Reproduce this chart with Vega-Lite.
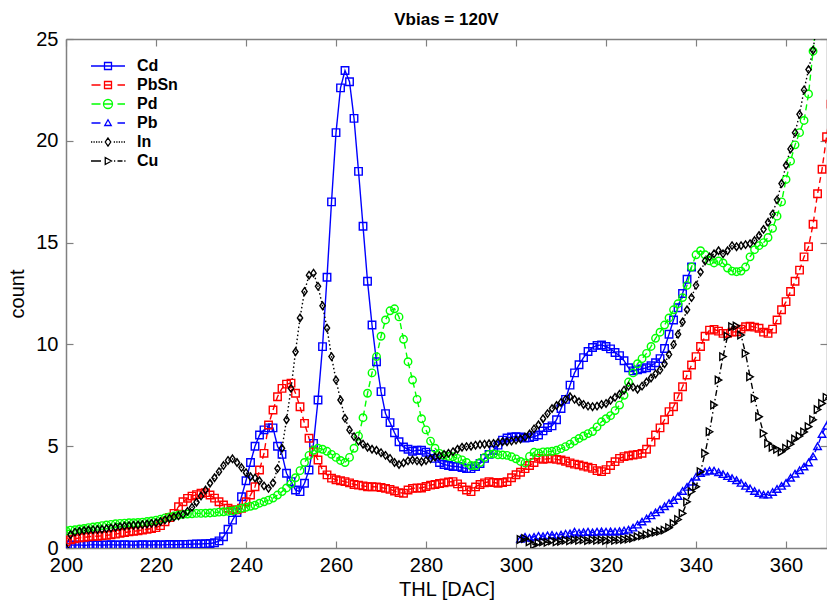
{
"$schema": "https://vega.github.io/schema/vega-lite/v6.json",
"width": 761,
"height": 509,
"autosize": "none",
"padding": {"left": 66, "top": 39, "right": 0, "bottom": 53},
"background": "white",
"title": {"text": "Vbias = 120V", "fontSize": 17, "fontWeight": "bold", "offset": 0, "dy": 17, "frame": "group", "baseline": "bottom", "anchor": "middle", "color": "black", "font": "Liberation Sans"},
"config": {
 "font": "Liberation Sans",
 "view": {"stroke": null},
 "axis": {"grid": false, "domainColor": "#808080", "domainWidth": 1.5, "tickColor": "#808080", "tickSize": -7, "tickWidth": 1.2, "labelFontSize": 20, "labelColor": "#000000", "titleFontSize": 20, "titleFontWeight": "normal", "titleColor": "#000000", "labelFont": "Liberation Sans", "titleFont": "Liberation Sans", "labelFlush": false, "labelOverlap": false}
},
"data": {"values": [
{"s":"Cd","x":200,"y":0.12},{"s":"Cd","x":201,"y":0.15},{"s":"Cd","x":202,"y":0.14},{"s":"Cd","x":203,"y":0.15},{"s":"Cd","x":204,"y":0.13},{"s":"Cd","x":205,"y":0.15},{"s":"Cd","x":206,"y":0.16},{"s":"Cd","x":207,"y":0.15},{"s":"Cd","x":208,"y":0.14},{"s":"Cd","x":209,"y":0.15},{"s":"Cd","x":210,"y":0.16},{"s":"Cd","x":211,"y":0.15},{"s":"Cd","x":212,"y":0.15},{"s":"Cd","x":213,"y":0.16},{"s":"Cd","x":214,"y":0.15},{"s":"Cd","x":215,"y":0.14},{"s":"Cd","x":216,"y":0.15},{"s":"Cd","x":217,"y":0.16},{"s":"Cd","x":218,"y":0.15},{"s":"Cd","x":219,"y":0.15},{"s":"Cd","x":220,"y":0.16},{"s":"Cd","x":221,"y":0.15},{"s":"Cd","x":222,"y":0.16},{"s":"Cd","x":223,"y":0.17},{"s":"Cd","x":224,"y":0.16},{"s":"Cd","x":225,"y":0.17},{"s":"Cd","x":226,"y":0.18},{"s":"Cd","x":227,"y":0.18},{"s":"Cd","x":228,"y":0.19},{"s":"Cd","x":229,"y":0.2},{"s":"Cd","x":230,"y":0.2},{"s":"Cd","x":231,"y":0.21},{"s":"Cd","x":232,"y":0.22},{"s":"Cd","x":233,"y":0.26},{"s":"Cd","x":234,"y":0.35},{"s":"Cd","x":235,"y":0.55},{"s":"Cd","x":236,"y":0.92},{"s":"Cd","x":237,"y":1.37},{"s":"Cd","x":238,"y":1.74},{"s":"Cd","x":239,"y":2.52},{"s":"Cd","x":240,"y":3.3},{"s":"Cd","x":241,"y":4.2},{"s":"Cd","x":242,"y":5.0},{"s":"Cd","x":243,"y":5.55},{"s":"Cd","x":244,"y":5.8},{"s":"Cd","x":245,"y":5.9},{"s":"Cd","x":246,"y":5.9},{"s":"Cd","x":247,"y":5.0},{"s":"Cd","x":248,"y":4.6},{"s":"Cd","x":249,"y":3.67},{"s":"Cd","x":250,"y":3.26},{"s":"Cd","x":251,"y":2.85},{"s":"Cd","x":252,"y":2.77},{"s":"Cd","x":253,"y":3.18},{"s":"Cd","x":254,"y":3.83},{"s":"Cd","x":255,"y":5.14},{"s":"Cd","x":256,"y":7.27},{"s":"Cd","x":257,"y":9.89},{"s":"Cd","x":258,"y":13.3},{"s":"Cd","x":259,"y":17.0},{"s":"Cd","x":260,"y":20.4},{"s":"Cd","x":261,"y":22.6},{"s":"Cd","x":262,"y":23.45},{"s":"Cd","x":263,"y":22.9},{"s":"Cd","x":264,"y":21.1},{"s":"Cd","x":265,"y":18.5},{"s":"Cd","x":266,"y":15.8},{"s":"Cd","x":267,"y":13.1},{"s":"Cd","x":268,"y":10.95},{"s":"Cd","x":269,"y":9.15},{"s":"Cd","x":270,"y":7.68},{"s":"Cd","x":271,"y":6.6},{"s":"Cd","x":272,"y":6.16},{"s":"Cd","x":273,"y":5.66},{"s":"Cd","x":274,"y":5.22},{"s":"Cd","x":275,"y":4.96},{"s":"Cd","x":276,"y":4.85},{"s":"Cd","x":277,"y":4.75},{"s":"Cd","x":278,"y":4.8},{"s":"Cd","x":279,"y":4.8},{"s":"Cd","x":280,"y":4.7},{"s":"Cd","x":281,"y":4.6},{"s":"Cd","x":282,"y":4.4},{"s":"Cd","x":283,"y":4.2},{"s":"Cd","x":284,"y":4.1},{"s":"Cd","x":285,"y":4.05},{"s":"Cd","x":286,"y":4.0},{"s":"Cd","x":287,"y":4.0},{"s":"Cd","x":288,"y":3.95},{"s":"Cd","x":289,"y":3.9},{"s":"Cd","x":290,"y":3.9},{"s":"Cd","x":291,"y":4.0},{"s":"Cd","x":292,"y":4.15},{"s":"Cd","x":293,"y":4.4},{"s":"Cd","x":294,"y":4.6},{"s":"Cd","x":295,"y":4.8},{"s":"Cd","x":296,"y":5.05},{"s":"Cd","x":297,"y":5.3},{"s":"Cd","x":298,"y":5.4},{"s":"Cd","x":299,"y":5.45},{"s":"Cd","x":300,"y":5.47},{"s":"Cd","x":301,"y":5.45},{"s":"Cd","x":302,"y":5.4},{"s":"Cd","x":303,"y":5.42},{"s":"Cd","x":304,"y":5.47},{"s":"Cd","x":305,"y":5.55},{"s":"Cd","x":306,"y":5.75},{"s":"Cd","x":307,"y":5.92},{"s":"Cd","x":308,"y":6.0},{"s":"Cd","x":309,"y":6.3},{"s":"Cd","x":310,"y":6.85},{"s":"Cd","x":311,"y":7.3},{"s":"Cd","x":312,"y":8.0},{"s":"Cd","x":313,"y":8.6},{"s":"Cd","x":314,"y":9.0},{"s":"Cd","x":315,"y":9.35},{"s":"Cd","x":316,"y":9.65},{"s":"Cd","x":317,"y":9.85},{"s":"Cd","x":318,"y":9.95},{"s":"Cd","x":319,"y":9.97},{"s":"Cd","x":320,"y":9.9},{"s":"Cd","x":321,"y":9.78},{"s":"Cd","x":322,"y":9.6},{"s":"Cd","x":323,"y":9.45},{"s":"Cd","x":324,"y":9.2},{"s":"Cd","x":325,"y":8.85},{"s":"Cd","x":326,"y":8.7},{"s":"Cd","x":327,"y":8.75},{"s":"Cd","x":328,"y":8.8},{"s":"Cd","x":329,"y":8.85},{"s":"Cd","x":330,"y":8.95},{"s":"Cd","x":331,"y":9.1},{"s":"Cd","x":332,"y":9.3},{"s":"Cd","x":333,"y":9.8},{"s":"Cd","x":334,"y":10.5},{"s":"Cd","x":335,"y":11.2},{"s":"Cd","x":336,"y":11.8},{"s":"Cd","x":337,"y":12.5},{"s":"Cd","x":338,"y":13.2},{"s":"Cd","x":339,"y":13.8},
{"s":"PbSn","x":200,"y":0.3},{"s":"PbSn","x":201,"y":0.4},{"s":"PbSn","x":202,"y":0.45},{"s":"PbSn","x":203,"y":0.5},{"s":"PbSn","x":204,"y":0.52},{"s":"PbSn","x":205,"y":0.55},{"s":"PbSn","x":206,"y":0.57},{"s":"PbSn","x":207,"y":0.58},{"s":"PbSn","x":208,"y":0.6},{"s":"PbSn","x":209,"y":0.62},{"s":"PbSn","x":210,"y":0.65},{"s":"PbSn","x":211,"y":0.68},{"s":"PbSn","x":212,"y":0.72},{"s":"PbSn","x":213,"y":0.76},{"s":"PbSn","x":214,"y":0.8},{"s":"PbSn","x":215,"y":0.82},{"s":"PbSn","x":216,"y":0.85},{"s":"PbSn","x":217,"y":0.88},{"s":"PbSn","x":218,"y":0.92},{"s":"PbSn","x":219,"y":0.95},{"s":"PbSn","x":220,"y":1.0},{"s":"PbSn","x":221,"y":1.1},{"s":"PbSn","x":222,"y":1.29},{"s":"PbSn","x":223,"y":1.5},{"s":"PbSn","x":224,"y":1.7},{"s":"PbSn","x":225,"y":2.03},{"s":"PbSn","x":226,"y":2.27},{"s":"PbSn","x":227,"y":2.44},{"s":"PbSn","x":228,"y":2.55},{"s":"PbSn","x":229,"y":2.62},{"s":"PbSn","x":230,"y":2.69},{"s":"PbSn","x":231,"y":2.72},{"s":"PbSn","x":232,"y":2.6},{"s":"PbSn","x":233,"y":2.45},{"s":"PbSn","x":234,"y":2.27},{"s":"PbSn","x":235,"y":2.11},{"s":"PbSn","x":236,"y":1.95},{"s":"PbSn","x":237,"y":1.87},{"s":"PbSn","x":238,"y":1.87},{"s":"PbSn","x":239,"y":1.95},{"s":"PbSn","x":240,"y":2.27},{"s":"PbSn","x":241,"y":2.6},{"s":"PbSn","x":242,"y":3.01},{"s":"PbSn","x":243,"y":3.83},{"s":"PbSn","x":244,"y":4.65},{"s":"PbSn","x":245,"y":6.04},{"s":"PbSn","x":246,"y":6.78},{"s":"PbSn","x":247,"y":7.43},{"s":"PbSn","x":248,"y":7.84},{"s":"PbSn","x":249,"y":8.05},{"s":"PbSn","x":250,"y":8.1},{"s":"PbSn","x":251,"y":7.6},{"s":"PbSn","x":252,"y":6.94},{"s":"PbSn","x":253,"y":6.12},{"s":"PbSn","x":254,"y":5.39},{"s":"PbSn","x":255,"y":4.73},{"s":"PbSn","x":256,"y":4.32},{"s":"PbSn","x":257,"y":3.83},{"s":"PbSn","x":258,"y":3.59},{"s":"PbSn","x":259,"y":3.43},{"s":"PbSn","x":260,"y":3.35},{"s":"PbSn","x":261,"y":3.3},{"s":"PbSn","x":262,"y":3.26},{"s":"PbSn","x":263,"y":3.2},{"s":"PbSn","x":264,"y":3.12},{"s":"PbSn","x":265,"y":3.09},{"s":"PbSn","x":266,"y":3.05},{"s":"PbSn","x":267,"y":3.01},{"s":"PbSn","x":268,"y":3.01},{"s":"PbSn","x":269,"y":3.0},{"s":"PbSn","x":270,"y":2.97},{"s":"PbSn","x":271,"y":2.93},{"s":"PbSn","x":272,"y":2.88},{"s":"PbSn","x":273,"y":2.8},{"s":"PbSn","x":274,"y":2.72},{"s":"PbSn","x":275,"y":2.69},{"s":"PbSn","x":276,"y":2.85},{"s":"PbSn","x":277,"y":2.93},{"s":"PbSn","x":278,"y":2.95},{"s":"PbSn","x":279,"y":2.95},{"s":"PbSn","x":280,"y":3.02},{"s":"PbSn","x":281,"y":3.09},{"s":"PbSn","x":282,"y":3.12},{"s":"PbSn","x":283,"y":3.17},{"s":"PbSn","x":284,"y":3.2},{"s":"PbSn","x":285,"y":3.24},{"s":"PbSn","x":286,"y":3.26},{"s":"PbSn","x":287,"y":3.15},{"s":"PbSn","x":288,"y":3.0},{"s":"PbSn","x":289,"y":2.85},{"s":"PbSn","x":290,"y":2.77},{"s":"PbSn","x":291,"y":3.0},{"s":"PbSn","x":292,"y":3.12},{"s":"PbSn","x":293,"y":3.2},{"s":"PbSn","x":294,"y":3.26},{"s":"PbSn","x":295,"y":3.22},{"s":"PbSn","x":296,"y":3.18},{"s":"PbSn","x":297,"y":3.22},{"s":"PbSn","x":298,"y":3.26},{"s":"PbSn","x":299,"y":3.45},{"s":"PbSn","x":300,"y":3.6},{"s":"PbSn","x":301,"y":3.72},{"s":"PbSn","x":302,"y":3.9},{"s":"PbSn","x":303,"y":4.05},{"s":"PbSn","x":304,"y":4.2},{"s":"PbSn","x":305,"y":4.4},{"s":"PbSn","x":306,"y":4.36},{"s":"PbSn","x":307,"y":4.38},{"s":"PbSn","x":308,"y":4.4},{"s":"PbSn","x":309,"y":4.35},{"s":"PbSn","x":310,"y":4.32},{"s":"PbSn","x":311,"y":4.26},{"s":"PbSn","x":312,"y":4.18},{"s":"PbSn","x":313,"y":4.12},{"s":"PbSn","x":314,"y":4.08},{"s":"PbSn","x":315,"y":4.02},{"s":"PbSn","x":316,"y":3.97},{"s":"PbSn","x":317,"y":3.91},{"s":"PbSn","x":318,"y":3.8},{"s":"PbSn","x":319,"y":3.75},{"s":"PbSn","x":320,"y":3.85},{"s":"PbSn","x":321,"y":4.05},{"s":"PbSn","x":322,"y":4.24},{"s":"PbSn","x":323,"y":4.4},{"s":"PbSn","x":324,"y":4.49},{"s":"PbSn","x":325,"y":4.53},{"s":"PbSn","x":326,"y":4.57},{"s":"PbSn","x":327,"y":4.6},{"s":"PbSn","x":328,"y":4.65},{"s":"PbSn","x":329,"y":4.85},{"s":"PbSn","x":330,"y":5.2},{"s":"PbSn","x":331,"y":5.55},{"s":"PbSn","x":332,"y":5.9},{"s":"PbSn","x":333,"y":6.3},{"s":"PbSn","x":334,"y":6.7},{"s":"PbSn","x":335,"y":6.94},{"s":"PbSn","x":336,"y":7.43},{"s":"PbSn","x":337,"y":7.92},{"s":"PbSn","x":338,"y":8.5},{"s":"PbSn","x":339,"y":8.99},{"s":"PbSn","x":340,"y":9.4},{"s":"PbSn","x":341,"y":9.9},{"s":"PbSn","x":342,"y":10.4},{"s":"PbSn","x":343,"y":10.7},{"s":"PbSn","x":344,"y":10.74},{"s":"PbSn","x":345,"y":10.65},{"s":"PbSn","x":346,"y":10.54},{"s":"PbSn","x":347,"y":10.54},{"s":"PbSn","x":348,"y":10.6},{"s":"PbSn","x":349,"y":10.62},{"s":"PbSn","x":350,"y":10.75},{"s":"PbSn","x":351,"y":10.87},{"s":"PbSn","x":352,"y":10.9},{"s":"PbSn","x":353,"y":10.85},{"s":"PbSn","x":354,"y":10.79},{"s":"PbSn","x":355,"y":10.6},{"s":"PbSn","x":356,"y":10.54},{"s":"PbSn","x":357,"y":10.75},{"s":"PbSn","x":358,"y":11.2},{"s":"PbSn","x":359,"y":11.7},{"s":"PbSn","x":360,"y":12.1},{"s":"PbSn","x":361,"y":12.6},{"s":"PbSn","x":362,"y":13.1},{"s":"PbSn","x":363,"y":13.65},{"s":"PbSn","x":364,"y":14.3},{"s":"PbSn","x":365,"y":14.8},{"s":"PbSn","x":366,"y":15.9},{"s":"PbSn","x":367,"y":17.4},{"s":"PbSn","x":368,"y":18.6},{"s":"PbSn","x":369,"y":20.2},{"s":"PbSn","x":370,"y":21.8},
{"s":"Pd","x":200,"y":0.85},{"s":"Pd","x":201,"y":0.88},{"s":"Pd","x":202,"y":0.9},{"s":"Pd","x":203,"y":0.93},{"s":"Pd","x":204,"y":0.96},{"s":"Pd","x":205,"y":1.0},{"s":"Pd","x":206,"y":1.03},{"s":"Pd","x":207,"y":1.06},{"s":"Pd","x":208,"y":1.1},{"s":"Pd","x":209,"y":1.13},{"s":"Pd","x":210,"y":1.16},{"s":"Pd","x":211,"y":1.19},{"s":"Pd","x":212,"y":1.21},{"s":"Pd","x":213,"y":1.22},{"s":"Pd","x":214,"y":1.24},{"s":"Pd","x":215,"y":1.24},{"s":"Pd","x":216,"y":1.25},{"s":"Pd","x":217,"y":1.27},{"s":"Pd","x":218,"y":1.3},{"s":"Pd","x":219,"y":1.33},{"s":"Pd","x":220,"y":1.37},{"s":"Pd","x":221,"y":1.42},{"s":"Pd","x":222,"y":1.48},{"s":"Pd","x":223,"y":1.53},{"s":"Pd","x":224,"y":1.58},{"s":"Pd","x":225,"y":1.62},{"s":"Pd","x":226,"y":1.65},{"s":"Pd","x":227,"y":1.67},{"s":"Pd","x":228,"y":1.68},{"s":"Pd","x":229,"y":1.7},{"s":"Pd","x":230,"y":1.7},{"s":"Pd","x":231,"y":1.71},{"s":"Pd","x":232,"y":1.72},{"s":"Pd","x":233,"y":1.74},{"s":"Pd","x":234,"y":1.76},{"s":"Pd","x":235,"y":1.78},{"s":"Pd","x":236,"y":1.8},{"s":"Pd","x":237,"y":1.82},{"s":"Pd","x":238,"y":1.88},{"s":"Pd","x":239,"y":1.95},{"s":"Pd","x":240,"y":2.0},{"s":"Pd","x":241,"y":2.05},{"s":"Pd","x":242,"y":2.1},{"s":"Pd","x":243,"y":2.2},{"s":"Pd","x":244,"y":2.27},{"s":"Pd","x":245,"y":2.35},{"s":"Pd","x":246,"y":2.45},{"s":"Pd","x":247,"y":2.6},{"s":"Pd","x":248,"y":2.77},{"s":"Pd","x":249,"y":2.95},{"s":"Pd","x":250,"y":3.15},{"s":"Pd","x":251,"y":3.45},{"s":"Pd","x":252,"y":3.8},{"s":"Pd","x":253,"y":4.2},{"s":"Pd","x":254,"y":4.55},{"s":"Pd","x":255,"y":4.8},{"s":"Pd","x":256,"y":4.9},{"s":"Pd","x":257,"y":4.85},{"s":"Pd","x":258,"y":4.75},{"s":"Pd","x":259,"y":4.6},{"s":"Pd","x":260,"y":4.45},{"s":"Pd","x":261,"y":4.3},{"s":"Pd","x":262,"y":4.2},{"s":"Pd","x":263,"y":4.45},{"s":"Pd","x":264,"y":4.9},{"s":"Pd","x":265,"y":5.5},{"s":"Pd","x":266,"y":6.4},{"s":"Pd","x":267,"y":7.6},{"s":"Pd","x":268,"y":8.6},{"s":"Pd","x":269,"y":9.4},{"s":"Pd","x":270,"y":10.4},{"s":"Pd","x":271,"y":11.2},{"s":"Pd","x":272,"y":11.65},{"s":"Pd","x":273,"y":11.75},{"s":"Pd","x":274,"y":11.35},{"s":"Pd","x":275,"y":10.25},{"s":"Pd","x":276,"y":9.15},{"s":"Pd","x":277,"y":8.25},{"s":"Pd","x":278,"y":7.3},{"s":"Pd","x":279,"y":6.35},{"s":"Pd","x":280,"y":5.8},{"s":"Pd","x":281,"y":5.25},{"s":"Pd","x":282,"y":4.9},{"s":"Pd","x":283,"y":4.65},{"s":"Pd","x":284,"y":4.55},{"s":"Pd","x":285,"y":4.5},{"s":"Pd","x":286,"y":4.48},{"s":"Pd","x":287,"y":4.4},{"s":"Pd","x":288,"y":4.33},{"s":"Pd","x":289,"y":4.2},{"s":"Pd","x":290,"y":4.05},{"s":"Pd","x":291,"y":4.05},{"s":"Pd","x":292,"y":4.2},{"s":"Pd","x":293,"y":4.45},{"s":"Pd","x":294,"y":4.6},{"s":"Pd","x":295,"y":4.62},{"s":"Pd","x":296,"y":4.58},{"s":"Pd","x":297,"y":4.57},{"s":"Pd","x":298,"y":4.55},{"s":"Pd","x":299,"y":4.48},{"s":"Pd","x":300,"y":4.38},{"s":"Pd","x":301,"y":4.25},{"s":"Pd","x":302,"y":4.18},{"s":"Pd","x":303,"y":4.5},{"s":"Pd","x":304,"y":4.7},{"s":"Pd","x":305,"y":4.67},{"s":"Pd","x":306,"y":4.72},{"s":"Pd","x":307,"y":4.73},{"s":"Pd","x":308,"y":4.75},{"s":"Pd","x":309,"y":4.8},{"s":"Pd","x":310,"y":4.88},{"s":"Pd","x":311,"y":4.98},{"s":"Pd","x":312,"y":5.1},{"s":"Pd","x":313,"y":5.25},{"s":"Pd","x":314,"y":5.38},{"s":"Pd","x":315,"y":5.5},{"s":"Pd","x":316,"y":5.62},{"s":"Pd","x":317,"y":5.72},{"s":"Pd","x":318,"y":5.95},{"s":"Pd","x":319,"y":6.2},{"s":"Pd","x":320,"y":6.35},{"s":"Pd","x":321,"y":6.5},{"s":"Pd","x":322,"y":6.75},{"s":"Pd","x":323,"y":7.02},{"s":"Pd","x":324,"y":7.5},{"s":"Pd","x":325,"y":8.15},{"s":"Pd","x":326,"y":8.6},{"s":"Pd","x":327,"y":9.05},{"s":"Pd","x":328,"y":9.3},{"s":"Pd","x":329,"y":9.56},{"s":"Pd","x":330,"y":9.9},{"s":"Pd","x":331,"y":10.3},{"s":"Pd","x":332,"y":10.6},{"s":"Pd","x":333,"y":10.95},{"s":"Pd","x":334,"y":11.3},{"s":"Pd","x":335,"y":11.7},{"s":"Pd","x":336,"y":12.0},{"s":"Pd","x":337,"y":12.3},{"s":"Pd","x":338,"y":12.9},{"s":"Pd","x":339,"y":13.8},{"s":"Pd","x":340,"y":14.4},{"s":"Pd","x":341,"y":14.6},{"s":"Pd","x":342,"y":14.4},{"s":"Pd","x":343,"y":14.1},{"s":"Pd","x":344,"y":14.0},{"s":"Pd","x":345,"y":14.1},{"s":"Pd","x":346,"y":14.0},{"s":"Pd","x":347,"y":13.75},{"s":"Pd","x":348,"y":13.6},{"s":"Pd","x":349,"y":13.57},{"s":"Pd","x":350,"y":13.6},{"s":"Pd","x":351,"y":13.8},{"s":"Pd","x":352,"y":14.3},{"s":"Pd","x":353,"y":14.65},{"s":"Pd","x":354,"y":14.85},{"s":"Pd","x":355,"y":15.0},{"s":"Pd","x":356,"y":15.25},{"s":"Pd","x":357,"y":15.7},{"s":"Pd","x":358,"y":16.3},{"s":"Pd","x":359,"y":17.0},{"s":"Pd","x":360,"y":18.1},{"s":"Pd","x":361,"y":19.0},{"s":"Pd","x":362,"y":19.8},{"s":"Pd","x":363,"y":20.4},{"s":"Pd","x":364,"y":21.0},{"s":"Pd","x":365,"y":22.3},{"s":"Pd","x":366,"y":24.4},{"s":"Pd","x":367,"y":26.5},
{"s":"Pb","x":301,"y":0.45},{"s":"Pb","x":302,"y":0.55},{"s":"Pb","x":303,"y":0.5},{"s":"Pb","x":304,"y":0.55},{"s":"Pb","x":305,"y":0.6},{"s":"Pb","x":306,"y":0.58},{"s":"Pb","x":307,"y":0.62},{"s":"Pb","x":308,"y":0.65},{"s":"Pb","x":309,"y":0.6},{"s":"Pb","x":310,"y":0.66},{"s":"Pb","x":311,"y":0.7},{"s":"Pb","x":312,"y":0.72},{"s":"Pb","x":313,"y":0.8},{"s":"Pb","x":314,"y":0.75},{"s":"Pb","x":315,"y":0.78},{"s":"Pb","x":316,"y":0.8},{"s":"Pb","x":317,"y":0.77},{"s":"Pb","x":318,"y":0.8},{"s":"Pb","x":319,"y":0.82},{"s":"Pb","x":320,"y":0.8},{"s":"Pb","x":321,"y":0.82},{"s":"Pb","x":322,"y":0.8},{"s":"Pb","x":323,"y":0.83},{"s":"Pb","x":324,"y":0.86},{"s":"Pb","x":325,"y":0.9},{"s":"Pb","x":326,"y":1.0},{"s":"Pb","x":327,"y":1.15},{"s":"Pb","x":328,"y":1.3},{"s":"Pb","x":329,"y":1.45},{"s":"Pb","x":330,"y":1.6},{"s":"Pb","x":331,"y":1.75},{"s":"Pb","x":332,"y":1.9},{"s":"Pb","x":333,"y":2.05},{"s":"Pb","x":334,"y":2.2},{"s":"Pb","x":335,"y":2.35},{"s":"Pb","x":336,"y":2.55},{"s":"Pb","x":337,"y":2.8},{"s":"Pb","x":338,"y":3.0},{"s":"Pb","x":339,"y":3.25},{"s":"Pb","x":340,"y":3.5},{"s":"Pb","x":341,"y":3.68},{"s":"Pb","x":342,"y":3.75},{"s":"Pb","x":343,"y":3.8},{"s":"Pb","x":344,"y":3.8},{"s":"Pb","x":345,"y":3.72},{"s":"Pb","x":346,"y":3.63},{"s":"Pb","x":347,"y":3.53},{"s":"Pb","x":348,"y":3.43},{"s":"Pb","x":349,"y":3.33},{"s":"Pb","x":350,"y":3.2},{"s":"Pb","x":351,"y":3.05},{"s":"Pb","x":352,"y":2.93},{"s":"Pb","x":353,"y":2.8},{"s":"Pb","x":354,"y":2.7},{"s":"Pb","x":355,"y":2.62},{"s":"Pb","x":356,"y":2.62},{"s":"Pb","x":357,"y":2.75},{"s":"Pb","x":358,"y":2.9},{"s":"Pb","x":359,"y":3.05},{"s":"Pb","x":360,"y":3.2},{"s":"Pb","x":361,"y":3.45},{"s":"Pb","x":362,"y":3.65},{"s":"Pb","x":363,"y":3.82},{"s":"Pb","x":364,"y":4.0},{"s":"Pb","x":365,"y":4.2},{"s":"Pb","x":366,"y":4.5},{"s":"Pb","x":367,"y":5.0},{"s":"Pb","x":368,"y":5.6},{"s":"Pb","x":369,"y":6.0},{"s":"Pb","x":370,"y":6.4},
{"s":"In","x":200,"y":0.0},{"s":"In","x":201,"y":0.65},{"s":"In","x":202,"y":0.78},{"s":"In","x":203,"y":0.82},{"s":"In","x":204,"y":0.86},{"s":"In","x":205,"y":0.88},{"s":"In","x":206,"y":0.9},{"s":"In","x":207,"y":0.91},{"s":"In","x":208,"y":0.92},{"s":"In","x":209,"y":0.95},{"s":"In","x":210,"y":0.98},{"s":"In","x":211,"y":1.02},{"s":"In","x":212,"y":1.05},{"s":"In","x":213,"y":1.08},{"s":"In","x":214,"y":1.1},{"s":"In","x":215,"y":1.12},{"s":"In","x":216,"y":1.13},{"s":"In","x":217,"y":1.15},{"s":"In","x":218,"y":1.18},{"s":"In","x":219,"y":1.21},{"s":"In","x":220,"y":1.24},{"s":"In","x":221,"y":1.3},{"s":"In","x":222,"y":1.38},{"s":"In","x":223,"y":1.46},{"s":"In","x":224,"y":1.52},{"s":"In","x":225,"y":1.58},{"s":"In","x":226,"y":1.65},{"s":"In","x":227,"y":1.8},{"s":"In","x":228,"y":2.0},{"s":"In","x":229,"y":2.25},{"s":"In","x":230,"y":2.55},{"s":"In","x":231,"y":2.85},{"s":"In","x":232,"y":3.18},{"s":"In","x":233,"y":3.45},{"s":"In","x":234,"y":3.75},{"s":"In","x":235,"y":4.05},{"s":"In","x":236,"y":4.3},{"s":"In","x":237,"y":4.38},{"s":"In","x":238,"y":4.2},{"s":"In","x":239,"y":3.95},{"s":"In","x":240,"y":3.7},{"s":"In","x":241,"y":3.5},{"s":"In","x":242,"y":3.44},{"s":"In","x":243,"y":3.3},{"s":"In","x":244,"y":3.05},{"s":"In","x":245,"y":2.93},{"s":"In","x":246,"y":3.2},{"s":"In","x":247,"y":3.9},{"s":"In","x":248,"y":4.9},{"s":"In","x":249,"y":6.3},{"s":"In","x":250,"y":7.84},{"s":"In","x":251,"y":9.64},{"s":"In","x":252,"y":11.3},{"s":"In","x":253,"y":12.6},{"s":"In","x":254,"y":13.4},{"s":"In","x":255,"y":13.5},{"s":"In","x":256,"y":12.85},{"s":"In","x":257,"y":11.9},{"s":"In","x":258,"y":10.8},{"s":"In","x":259,"y":9.4},{"s":"In","x":260,"y":8.25},{"s":"In","x":261,"y":7.27},{"s":"In","x":262,"y":6.37},{"s":"In","x":263,"y":5.8},{"s":"In","x":264,"y":5.47},{"s":"In","x":265,"y":5.25},{"s":"In","x":266,"y":5.1},{"s":"In","x":267,"y":4.95},{"s":"In","x":268,"y":4.85},{"s":"In","x":269,"y":4.8},{"s":"In","x":270,"y":4.68},{"s":"In","x":271,"y":4.55},{"s":"In","x":272,"y":4.4},{"s":"In","x":273,"y":4.2},{"s":"In","x":274,"y":4.1},{"s":"In","x":275,"y":4.18},{"s":"In","x":276,"y":4.28},{"s":"In","x":277,"y":4.32},{"s":"In","x":278,"y":4.28},{"s":"In","x":279,"y":4.24},{"s":"In","x":280,"y":4.3},{"s":"In","x":281,"y":4.38},{"s":"In","x":282,"y":4.47},{"s":"In","x":283,"y":4.53},{"s":"In","x":284,"y":4.6},{"s":"In","x":285,"y":4.65},{"s":"In","x":286,"y":4.73},{"s":"In","x":287,"y":4.85},{"s":"In","x":288,"y":4.95},{"s":"In","x":289,"y":4.98},{"s":"In","x":290,"y":5.0},{"s":"In","x":291,"y":5.05},{"s":"In","x":292,"y":5.08},{"s":"In","x":293,"y":5.1},{"s":"In","x":294,"y":5.12},{"s":"In","x":295,"y":5.14},{"s":"In","x":296,"y":5.18},{"s":"In","x":297,"y":5.22},{"s":"In","x":298,"y":5.22},{"s":"In","x":299,"y":5.25},{"s":"In","x":300,"y":5.3},{"s":"In","x":301,"y":5.35},{"s":"In","x":302,"y":5.45},{"s":"In","x":303,"y":5.6},{"s":"In","x":304,"y":5.85},{"s":"In","x":305,"y":6.05},{"s":"In","x":306,"y":6.35},{"s":"In","x":307,"y":6.6},{"s":"In","x":308,"y":6.85},{"s":"In","x":309,"y":7.0},{"s":"In","x":310,"y":7.15},{"s":"In","x":311,"y":7.3},{"s":"In","x":312,"y":7.43},{"s":"In","x":313,"y":7.3},{"s":"In","x":314,"y":7.18},{"s":"In","x":315,"y":7.05},{"s":"In","x":316,"y":6.97},{"s":"In","x":317,"y":6.94},{"s":"In","x":318,"y":6.97},{"s":"In","x":319,"y":7.05},{"s":"In","x":320,"y":7.1},{"s":"In","x":321,"y":7.25},{"s":"In","x":322,"y":7.4},{"s":"In","x":323,"y":7.55},{"s":"In","x":324,"y":7.75},{"s":"In","x":325,"y":7.95},{"s":"In","x":326,"y":7.9},{"s":"In","x":327,"y":7.8},{"s":"In","x":328,"y":7.95},{"s":"In","x":329,"y":8.15},{"s":"In","x":330,"y":8.35},{"s":"In","x":331,"y":8.55},{"s":"In","x":332,"y":8.74},{"s":"In","x":333,"y":9.05},{"s":"In","x":334,"y":9.5},{"s":"In","x":335,"y":10.0},{"s":"In","x":336,"y":10.5},{"s":"In","x":337,"y":11.1},{"s":"In","x":338,"y":11.7},{"s":"In","x":339,"y":12.3},{"s":"In","x":340,"y":12.9},{"s":"In","x":341,"y":13.55},{"s":"In","x":342,"y":14.1},{"s":"In","x":343,"y":14.3},{"s":"In","x":344,"y":14.45},{"s":"In","x":345,"y":14.6},{"s":"In","x":346,"y":14.45},{"s":"In","x":347,"y":14.6},{"s":"In","x":348,"y":14.85},{"s":"In","x":349,"y":14.8},{"s":"In","x":350,"y":14.85},{"s":"In","x":351,"y":14.9},{"s":"In","x":352,"y":14.95},{"s":"In","x":353,"y":15.1},{"s":"In","x":354,"y":15.35},{"s":"In","x":355,"y":15.65},{"s":"In","x":356,"y":16.0},{"s":"In","x":357,"y":16.4},{"s":"In","x":358,"y":17.1},{"s":"In","x":359,"y":17.9},{"s":"In","x":360,"y":18.8},{"s":"In","x":361,"y":19.6},{"s":"In","x":362,"y":20.4},{"s":"In","x":363,"y":21.3},{"s":"In","x":364,"y":22.5},{"s":"In","x":365,"y":23.5},{"s":"In","x":366,"y":24.45},{"s":"In","x":367,"y":26.0},
{"s":"Cu","x":301,"y":0.42},{"s":"Cu","x":302,"y":0.47},{"s":"Cu","x":303,"y":0.3},{"s":"Cu","x":304,"y":0.15},{"s":"Cu","x":305,"y":0.25},{"s":"Cu","x":306,"y":0.3},{"s":"Cu","x":307,"y":0.28},{"s":"Cu","x":308,"y":0.35},{"s":"Cu","x":309,"y":0.3},{"s":"Cu","x":310,"y":0.33},{"s":"Cu","x":311,"y":0.38},{"s":"Cu","x":312,"y":0.35},{"s":"Cu","x":313,"y":0.4},{"s":"Cu","x":314,"y":0.38},{"s":"Cu","x":315,"y":0.4},{"s":"Cu","x":316,"y":0.36},{"s":"Cu","x":317,"y":0.4},{"s":"Cu","x":318,"y":0.38},{"s":"Cu","x":319,"y":0.4},{"s":"Cu","x":320,"y":0.37},{"s":"Cu","x":321,"y":0.4},{"s":"Cu","x":322,"y":0.38},{"s":"Cu","x":323,"y":0.4},{"s":"Cu","x":324,"y":0.42},{"s":"Cu","x":325,"y":0.44},{"s":"Cu","x":326,"y":0.48},{"s":"Cu","x":327,"y":0.55},{"s":"Cu","x":328,"y":0.6},{"s":"Cu","x":329,"y":0.65},{"s":"Cu","x":330,"y":0.72},{"s":"Cu","x":331,"y":0.77},{"s":"Cu","x":332,"y":0.82},{"s":"Cu","x":333,"y":0.88},{"s":"Cu","x":334,"y":1.0},{"s":"Cu","x":335,"y":1.2},{"s":"Cu","x":336,"y":1.4},{"s":"Cu","x":337,"y":1.7},{"s":"Cu","x":338,"y":2.27},{"s":"Cu","x":339,"y":2.77},{"s":"Cu","x":340,"y":3.01},{"s":"Cu","x":341,"y":3.75},{"s":"Cu","x":342,"y":4.65},{"s":"Cu","x":343,"y":5.71},{"s":"Cu","x":344,"y":7.02},{"s":"Cu","x":345,"y":8.25},{"s":"Cu","x":346,"y":9.4},{"s":"Cu","x":347,"y":10.4},{"s":"Cu","x":348,"y":10.87},{"s":"Cu","x":349,"y":10.9},{"s":"Cu","x":350,"y":10.46},{"s":"Cu","x":351,"y":9.56},{"s":"Cu","x":352,"y":8.41},{"s":"Cu","x":353,"y":7.35},{"s":"Cu","x":354,"y":6.45},{"s":"Cu","x":355,"y":5.63},{"s":"Cu","x":356,"y":5.14},{"s":"Cu","x":357,"y":4.95},{"s":"Cu","x":358,"y":4.85},{"s":"Cu","x":359,"y":4.73},{"s":"Cu","x":360,"y":4.9},{"s":"Cu","x":361,"y":5.1},{"s":"Cu","x":362,"y":5.35},{"s":"Cu","x":363,"y":5.5},{"s":"Cu","x":364,"y":5.7},{"s":"Cu","x":365,"y":5.96},{"s":"Cu","x":366,"y":6.3},{"s":"Cu","x":367,"y":6.8},{"s":"Cu","x":368,"y":7.1},{"s":"Cu","x":369,"y":7.4},{"s":"Cu","x":370,"y":7.6}
]},
"layer": [
 {
  "mark": {"type": "line", "clip": true, "strokeWidth": 1.4},
  "encoding": {
   "x": {"field": "x", "type": "quantitative", "scale": {"domain": [200, 369.1], "nice": false, "zero": false},
         "axis": {"orient": "bottom", "values": [200,220,240,260,280,300,320,340,360], "title": "THL [DAC]", "labelPadding": 14.5, "titlePadding": 4}},
   "y": {"field": "y", "type": "quantitative", "scale": {"domain": [0, 25], "nice": false, "zero": false},
         "axis": {"orient": "left", "values": [0,5,10,15,20,25], "title": "count", "labelPadding": 15, "titlePadding": 8}},
   "color": {"field": "s", "type": "nominal", "scale": {"domain": ["Cd","PbSn","Pd","Pb","In","Cu"], "range": ["#0000ff","#ff0000","#00ff00","#0000ff","#000000","#000000"]}, "legend": null},
   "strokeDash": {"field": "s", "type": "nominal", "scale": {"domain": ["Cd","PbSn","Pd","Pb","In","Cu"], "range": [[1,0],[6,4],[6,4],[6,4],[1.5,2.5],[6,3,1.5,3]]}, "legend": null}
  }
 },
 {
  "mark": {"type": "point", "clip": true, "filled": false, "strokeWidth": 1.4, "opacity": 1},
  "encoding": {
   "x": {"field": "x", "type": "quantitative", "axis": {"orient": "top", "values": [200,220,240,260,280,300,320,340,360], "labels": false, "title": null}},
   "y": {"field": "y", "type": "quantitative", "axis": {"orient": "right", "values": [0,5,10,15,20,25], "labels": false, "title": null}},
   "color": {"field": "s", "type": "nominal", "scale": {"domain": ["Cd","PbSn","Pd","Pb","In","Cu"], "range": ["#0000ff","#ff0000","#00ff00","#0000ff","#000000","#000000"]}, "legend": null},
   "shape": {"field": "s", "type": "nominal", "scale": {"domain": ["Cd","PbSn","Pd","Pb","In","Cu"], "range": ["square","square","circle","triangle-up","M0,-1L0.7,0L0,1L-0.7,0Z","triangle-right"]}, "legend": null},
   "size": {"field": "s", "type": "nominal", "scale": {"domain": ["Cd","PbSn","Pd","Pb","In","Cu"], "range": [56,56,90,44,80,60]}, "legend": null}
  }
 },
 {
  "mark": {"type": "point", "clip": true, "filled": false, "strokeWidth": 1.3, "opacity": 0, "size": 100},
  "encoding": {
   "x": {"field": "x", "type": "quantitative", "axis": null},
   "y": {"field": "y", "type": "quantitative", "axis": null},
   "color": {"field": "s", "type": "nominal", "scale": {"domain": ["Cd","PbSn","Pd","Pb","In","Cu"], "range": ["#0000ff","#ff0000","#00ff00","#0000ff","#000000","#000000"]},
     "legend": {"orient": "none", "legendX": 34, "legendY": 19, "title": null, "padding": 0, "labelFontSize": 16, "labelFont": "Liberation Sans", "labelFontWeight": "bold", "labelColor": "#000000", "symbolSize": 100, "labelOffset": 21, "rowPadding": 3, "symbolStrokeWidth": 1.3, "symbolOpacity": 1}},
   "shape": {"field": "s", "type": "nominal", "scale": {"domain": ["Cd","PbSn","Pd","Pb","In","Cu"], "range": [
      "M-3.4,0H3.4M-0.7,-0.7H0.7V0.7H-0.7Z",
      "M-3.3,0H-1.5M-0.7,0H0.7M1.9,0H3.4M-0.7,-0.7H0.7V0.7H-0.7Z",
      "M-3.3,0H-1.5M-0.9,0H0.9M1.9,0H3.4M0.9,0A0.9,0.9 0 1,1 -0.9,0A0.9,0.9 0 1,1 0.9,0",
      "M-3.3,0H-1.5M1.9,0H3.4M0,-0.65L0.65,0.5L-0.65,0.5Z",
      "M-3.4,0h0.25M-2.9,0h0.25M-2.4,0h0.25M-1.9,0h0.25M-1.4,0h0.25M1.15,0h0.25M1.65,0h0.25M2.15,0h0.25M2.65,0h0.25M3.15,0h0.25M0,-0.8L0.55,0L0,0.8L-0.55,0Z",
      "M-3.4,0H-1.4M1.2,0h0.25M1.9,0H2.9M3.25,0h0.25M-0.55,-0.7L0.7,0L-0.55,0.7Z"]},
     "legend": {"orient": "none", "legendX": 34, "legendY": 19, "title": null, "padding": 0, "labelFontSize": 16, "labelFont": "Liberation Sans", "labelFontWeight": "bold", "labelColor": "#000000", "symbolSize": 100, "labelOffset": 21, "rowPadding": 3, "symbolStrokeWidth": 1.3, "symbolOpacity": 1}}
  }
 }
],
"resolve": {"axis": {"x": "independent", "y": "independent"}, "scale": {"shape": "independent"}, "legend": {"color": "independent", "strokeDash": "independent", "shape": "independent", "size": "independent"}}
}
